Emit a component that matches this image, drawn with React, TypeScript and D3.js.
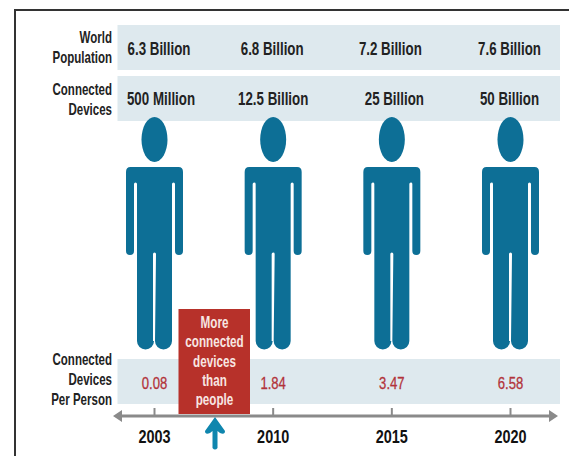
import React from "react";
import * as d3 from "d3";

// Timeline rows
const years = ["2003", "2010", "2015", "2020"];
const worldPopulation = ["6.3 Billion", "6.8 Billion", "7.2 Billion", "7.6 Billion"];
const connectedDevices = ["500 Million", "12.5 Billion", "25 Billion", "50 Billion"];
const devicesPerPerson = ["0.08", "1.84", "3.47", "6.58"];
const crossoverLines = ["More", "connected", "devices", "than", "people"];

// The two top rows are not set exactly over their column centres
const populationNudge = [4.5, -1, -1.5, -1];
const devicesNudge = [6.5, 0, 2.5, -1];

const FONT = "'Liberation Sans', Arial, sans-serif";
const TEAL = "#0d6f96";
const BAND = "#dee9ee";
const RED = "#b7312a";

const x = d3.scalePoint<string>().domain(years).range([154.5, 510.5]);

// Horizontally condensed text, since no narrow face is installed
function Narrow({
  x: px,
  y,
  size,
  squeeze,
  anchor = "middle",
  fill = "#222",
  weight = 700,
  stroke,
  children,
}: {
  x: number;
  y: number;
  size: number;
  squeeze: number;
  anchor?: string;
  fill?: string;
  weight?: number;
  stroke?: number;
  children: string;
}) {
  return (
    <text
      transform={`translate(${px},${y}) scale(${squeeze},1)`}
      fontFamily={FONT}
      fontSize={size}
      fontWeight={weight}
      fill={fill}
      textAnchor={anchor}
      stroke={stroke ? fill : "none"}
      strokeWidth={stroke ?? 0}
    >
      {children}
    </text>
  );
}

// Standing figure: head ellipse and a body outline built with d3.path
function Figure({ cx }: { cx: number }) {
  const outline = d3.path();
  const top = 167;
  const armEnd = 251;
  const legEnd = 341;
  const crotch = 254;
  outline.moveTo(cx - 24, top);
  outline.lineTo(cx + 24, top);
  outline.quadraticCurveTo(cx + 28.5, top, cx + 28.5, top + 5);
  outline.lineTo(cx + 28.5, armEnd);
  outline.arc(cx + 24.5, armEnd, 4, 0, Math.PI);
  outline.lineTo(cx + 20.5, 184);
  outline.arc(cx + 19, 184, 1.5, 0, Math.PI, true);
  outline.lineTo(cx + 17.5, legEnd);
  outline.arc(cx + 9, legEnd, 8.5, 0, Math.PI);
  outline.lineTo(cx + 1.5, crotch);
  outline.arc(cx, crotch, 1.5, 0, Math.PI, true);
  outline.lineTo(cx - 1.5, legEnd);
  outline.arc(cx - 9, legEnd, 8.5, 0, Math.PI);
  outline.lineTo(cx - 17.5, 184);
  outline.arc(cx - 19, 184, 1.5, 0, Math.PI, true);
  outline.lineTo(cx - 20.5, armEnd);
  outline.arc(cx - 24.5, armEnd, 4, 0, Math.PI);
  outline.lineTo(cx - 28.5, top + 5);
  outline.quadraticCurveTo(cx - 28.5, top, cx - 24, top);
  outline.closePath();
  return (
    <g fill={TEAL}>
      <ellipse cx={cx} cy={139.5} rx={13} ry={22.5} />
      <path d={outline.toString()} />
    </g>
  );
}

function RowLabel({ y, lines }: { y: number; lines: string[] }) {
  return (
    <g>
      {lines.map((l, i) => (
        <Narrow key={l} x={112} y={y + i * 20.2} size={16} squeeze={0.72} anchor="end">
          {l}
        </Narrow>
      ))}
    </g>
  );
}

export default function App() {
  return (
    <svg
      width={569}
      height={456}
      style={{ position: "absolute", left: 0, top: 0, background: "#fff" }}
    >
      <path d="M15 456V10H569" fill="none" stroke="#333" strokeWidth={2} />

      <rect x={117.5} y={25} width={442.5} height={45} fill={BAND} />
      <rect x={117.5} y={76} width={442.5} height={45} fill={BAND} />
      <rect x={117.5} y={359} width={442.5} height={45} fill={BAND} />

      <RowLabel y={42.5} lines={["World", "Population"]} />
      <RowLabel y={94.5} lines={["Connected", "Devices"]} />
      <RowLabel y={364.5} lines={["Connected", "Devices", "Per Person"]} />

      {years.map((year, i) => {
        const cx = x(year)!;
        return (
          <g key={year}>
            <Figure cx={cx} />
            <Narrow x={cx + populationNudge[i]} y={54.5} size={18} squeeze={0.74}>
              {worldPopulation[i]}
            </Narrow>
            <Narrow x={cx + devicesNudge[i]} y={105} size={18} squeeze={0.74}>
              {connectedDevices[i]}
            </Narrow>
            <Narrow x={cx} y={388.5} size={17} squeeze={0.77} weight={400} stroke={0.3} fill="#b2333a">
              {devicesPerPerson[i]}
            </Narrow>
            <line x1={cx} x2={cx} y1={408} y2={416} stroke="#8a8a8a" strokeWidth={2} />
            <Narrow x={cx} y={442.5} size={19} squeeze={0.76} fill="#111">
              {year}
            </Narrow>
          </g>
        );
      })}

      <line x1={120} x2={552} y1={416} y2={416} stroke="#8a8a8a" strokeWidth={3} />
      <path d="M113 416L122 410V422Z M558 416L549 410V422Z" fill="#8a8a8a" />

      <rect x={178.5} y={309} width={71.5} height={105} fill={RED} />
      {crossoverLines.map((l, i) => (
        <Narrow key={l} x={214.5} y={328 + i * 19.3} size={16} squeeze={0.73} fill="#f7e6e2">
          {l}
        </Narrow>
      ))}

      <path
        d="M215 417L225 431Q225 435 220 433L217.5 431V448Q215 451 212.5 448V431L210 433Q205 435 205 431Z"
        fill="#0f86ae"
      />
    </svg>
  );
}
